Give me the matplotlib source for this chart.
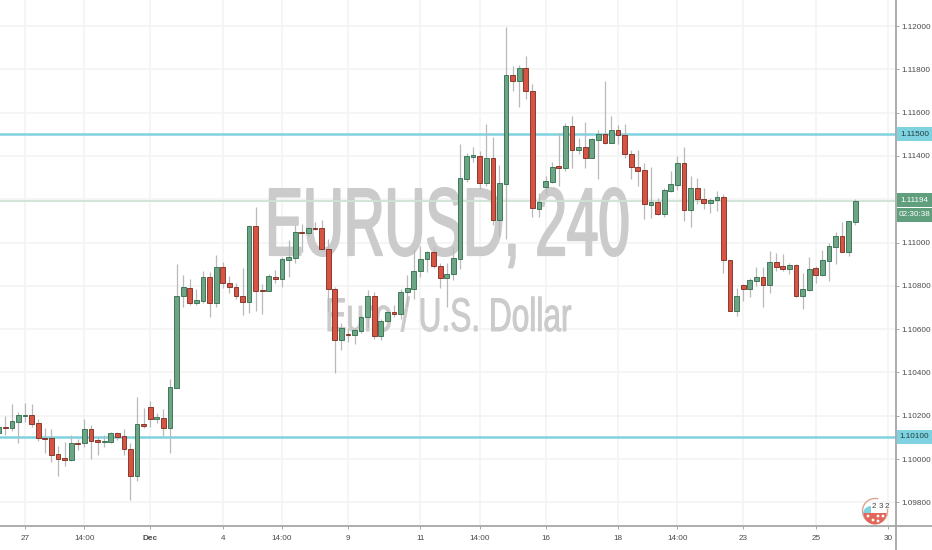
import numpy as np
import matplotlib
matplotlib.use("Agg")
import matplotlib.pyplot as plt
from matplotlib.patches import Rectangle, Wedge, Circle, Arc
from matplotlib.patheffects import AbstractPathEffect
from matplotlib.transforms import Affine2D

BASE_PRICE = 1.1
PIP = 0.0001

# values: pips above 1.10000, first candle is number -1
opens = [12.2,
 15.0,14.2,17.3,20.0,20.5,16.7,9.9,9.6,2.2,0.3,
 -0.6,7.4,7.3,14.0,8.6,7.9,7.9,12.0,10.6,4.8,
 -7.7,16.2,23.9,18.5,19.1,14.2,33.0,75.2,79.2,72.2,
 73.2,84.0,72.2,88.6,81.3,79.6,75.3,72.7,107.7,78.1,
 77.7,84.3,83.2,92.1,92.7,105.1,104.3,106.8,106.6,96.9,
 78.4,54.9,57.6,57.2,59.2,65.5,75.3,56.7,63.9,67.8,
 67.2,77.0,78.7,86.7,92.3,95.8,89.4,83.7,85.4,92.5,
 129.3,139.7,140.1,127.6,138.9,110.2,127.2,177.4,174.5,180.8,
 170.2,115.6,125.8,128.0,135.3,134.6,153.7,142.9,144.0,139.0,
 147.5,150.3,146.1,152.0,149.8,140.9,135.0,133.3,117.5,118.6,
 113.2,123.8,126.7,136.8,114.9,125.4,120.3,118.3,119.7,121.1,
 91.8,68.6,80.4,78.7,82.4,84.0,80.3,91.0,89.0,88.0,
 89.8,75.3,78.3,88.1,84.9,91.7,98.0,102.9,95.8,109.4]
closes = [15.0,
 14.2,17.4,20.5,20.5,16.3,9.6,9.3,2.0,-0.1,-0.6,
 7.3,7.0,14.0,8.3,7.9,8.3,12.0,10.3,4.5,-7.7,
 16.2,15.4,18.5,19.3,14.2,33.1,75.3,79.3,72.2,73.3,
 84.0,72.2,88.6,81.2,79.3,75.2,72.7,107.7,77.8,77.5,
 84.4,83.2,92.4,93.2,105.1,104.3,106.8,106.3,96.9,78.4,
 55.0,60.3,57.2,59.5,65.8,75.3,56.7,63.9,68.0,67.2,
 77.0,78.9,86.9,92.3,95.8,89.2,83.8,85.5,92.7,129.6,
 140.1,140.4,127.6,139.0,110.4,127.3,177.4,174.5,180.8,169.8,
 115.8,118.7,128.3,135.0,134.6,153.7,142.9,144.0,139.0,147.7,
 150.3,146.1,152.0,149.5,140.7,134.7,133.0,117.6,118.6,113.2,
 124.1,127.0,136.7,114.9,125.4,120.0,118.3,119.8,121.1,91.8,
 68.6,75.3,78.6,82.7,84.0,80.3,91.0,88.7,87.8,89.8,
 75.3,78.4,88.0,84.9,91.8,98.3,102.9,95.8,109.8,119.4]
highs = [16.5,
 20.0,25.4,21.9,25.7,25.3,18.5,14.5,13.7,6.0,7.9,
 11.1,9.3,18.5,15.7,10.3,11.1,12.7,12.7,13.7,7.3,
 28.5,23.4,27.0,21.1,23.1,36.8,90.1,85.2,83.0,78.4,
 86.9,86.3,94.1,91.2,84.7,81.5,88.1,108.0,116.6,80.7,
 85.5,87.4,93.2,101.2,108.2,108.5,107.1,109.4,110.2,101.5,
 79.4,63.0,60.4,60.4,66.6,78.1,77.0,64.6,68.6,71.2,
 78.4,85.2,96.9,98.4,96.3,97.9,90.4,90.7,98.1,145.4,
 141.2,144.3,142.3,154.6,148.9,135.7,199.7,181.5,182.0,186.2,
 173.1,123.0,130.7,137.2,150.7,155.1,158.4,148.1,155.8,148.1,
 152.0,174.8,158.4,154.3,154.6,142.7,142.7,136.6,134.7,120.7,
 125.3,133.0,140.0,144.3,130.8,129.7,125.1,120.5,124.0,122.3,
 91.8,78.9,80.9,83.5,88.9,88.6,96.3,95.0,94.6,90.4,
 90.1,85.8,93.5,89.2,96.6,100.0,105.1,109.4,109.8,120.1]
lows = [11.6,
 11.1,13.1,7.3,17.3,15.0,8.3,3.0,-1.4,-7.7,-3.2,
 -0.7,4.2,5.4,0.2,2.0,5.7,7.6,8.8,2.0,-18.8,
 -10.0,14.5,15.0,16.8,10.6,3.0,32.7,70.1,71.2,71.2,
 71.9,65.8,70.1,79.2,76.9,73.8,66.6,67.6,68.6,67.0,
 77.5,81.2,79.4,84.3,90.4,95.8,103.2,105.8,96.1,68.6,
 39.9,50.4,54.1,53.2,58.4,60.9,55.3,55.0,63.5,65.5,
 64.9,70.7,74.0,84.3,86.6,88.1,79.2,70.1,82.7,87.9,
 128.1,137.3,124.6,126.3,108.1,103.0,101.8,170.2,162.8,166.5,
 111.9,111.9,122.4,127.6,126.1,133.2,134.6,140.9,134.3,138.9,
 129.2,145.5,145.8,145.5,138.9,129.2,126.3,110.7,111.5,112.7,
 111.9,123.2,124.3,109.8,107.4,117.7,115.7,113.5,114.8,86.1,
 68.2,66.2,73.0,74.7,80.1,70.1,76.9,87.0,87.0,85.3,
 75.0,69.2,77.8,81.5,84.7,82.4,90.0,95.5,93.8,108.1]

candle_numbers = np.arange(-1, 130)
levels = [1.11500, 1.10100]
last_price = 1.11194
countdown = "02:30:38"
price_ticks = [1.098, 1.100, 1.102, 1.104, 1.106, 1.108, 1.110, 1.114, 1.116, 1.118, 1.120]
date_ticks = [3, 12, 22, 33, 42, 52, 63, 72, 82, 93, 102, 112, 123, 134]
date_labels = ["27", "14:00", "Dec", "4", "14:00", "9", "11", "14:00", "16", "18", "14:00", "23", "25", "30"]

UP, UP_EDGE = "#6ba583", "#2f6a4b"
DOWN, DOWN_EDGE = "#d75442", "#7a2a20"
WICK = "#b9b9b9"
CYAN = "#7fd3e0"
GRID = "#f3f3f3"
MARK = "#cbcbcb"
AXIS = "#a6a6a6"
TEXT = "#4a4a4a"
FONT = "Liberation Sans"


class Squeeze(AbstractPathEffect):
    """Draw text narrower about a pixel column, with thickened strokes."""
    def __init__(self, cx, sx, stroke):
        super().__init__()
        self.cx, self.sx, self.stroke = cx, sx, stroke

    def draw_path(self, renderer, gc, tpath, affine, rgbFace=None):
        t = affine + Affine2D().translate(-self.cx, 0).scale(self.sx, 1).translate(self.cx, 0)
        g = renderer.new_gc()
        g.copy_properties(gc)
        g.set_foreground(rgbFace)
        g.set_linewidth(self.stroke)
        renderer.draw_path(g, tpath, t, rgbFace)
        g.restore()


W, H = 932, 550
fig = plt.figure(figsize=(W / 100, H / 100), dpi=100, facecolor="white")
ax = fig.add_axes([0, 24 / H, 896 / W, 526 / H])
ax.set_facecolor("white")
ax.set_xlim(-0.804, 135.18)
ax.set_ylim(BASE_PRICE - 30.95 * PIP, BASE_PRICE + 212.06 * PIP)
for s in ax.spines.values():
    s.set_visible(False)

o = BASE_PRICE + np.array(opens) * PIP
c = BASE_PRICE + np.array(closes) * PIP
h = BASE_PRICE + np.array(highs) * PIP
l = BASE_PRICE + np.array(lows) * PIP
up = c >= o

ax.set_yticks(price_ticks)
ax.set_yticklabels([f"{p:.5f}" for p in price_ticks], fontsize=5.9, color=TEXT, family=FONT)
ax.yaxis.tick_right()
ax.set_xticks(date_ticks)
ax.set_xticklabels(date_labels, fontsize=5.9, color=TEXT, family=FONT)
ax.get_xticklabels()[2].set_fontweight("bold")
ax.tick_params(axis="y", length=2, width=0.7, color=AXIS, pad=2)
ax.tick_params(axis="x", length=2, width=0.7, color=AXIS, pad=4.5)
ax.grid(True, color=GRID, lw=1.1, zorder=0)
ax.hlines(1.112, -1, 136, color=GRID, lw=1.1, zorder=0)
ax.set_axisbelow(True)

# watermark
wm = ["Liberation Sans Narrow", "Liberation Sans"]
ax.text(447.5 / W, (H - 255) / H, "EURUSD, 240", transform=fig.transFigure, ha="center", va="baseline",
        fontsize=69, color=MARK, family=wm, zorder=1,
        path_effects=[Squeeze(447.5, 0.59, 1.6)])
ax.text(448.5 / W, (H - 331) / H, "Euro / U.S. Dollar", transform=fig.transFigure, ha="center", va="baseline",
        fontsize=34, color=MARK, family=wm, zorder=1,
        path_effects=[Squeeze(448.5, 0.67, 0.7)])

# levels
ax.axhline(last_price, color="#cfe3d6", lw=1.3, zorder=2)
for lv in levels:
    ax.axhline(lv, color=CYAN, lw=1.8, zorder=2)

# candles
ax.vlines(candle_numbers, l, h, color=WICK, lw=0.9, zorder=3)
tops, bots = np.maximum(o, c), np.minimum(o, c)
ax.bar(candle_numbers, tops - bots, bottom=bots, width=0.72,
       color=np.where(up, UP, DOWN), edgecolor=np.where(up, UP_EDGE, DOWN_EDGE),
       linewidth=0.6, zorder=4)

# overlay in pixels: axis lines, price labels, logo
ov = fig.add_axes([0, 0, 1, 1], facecolor="none")
ov.set_xlim(0, W)
ov.set_ylim(H, 0)
ov.axis("off")
ov.plot([896, 896], [0, H], color=AXIS, lw=1.3)
ov.plot([0, W], [526, 526], color=AXIS, lw=1.3)


def price_box(y0, y1, label, fc, tc):
    ov.add_patch(Rectangle((897, y0), W - 897, y1 - y0, fc=fc, ec="none", zorder=5))
    ov.text(914.5, (y0 + y1) / 2, label, color=tc, fontsize=5.9, family=FONT,
            ha="center", va="center", zorder=6)


price_box(127, 141, f"{levels[0]:.5f}", CYAN, "#1f3f45")
price_box(430, 444, f"{levels[1]:.5f}", CYAN, "#1f3f45")
price_box(193, 207, f"{last_price:.5f}", "#5f9f7d", "white")
price_box(208, 222, countdown, "#5f9f7d", "white")

# badge
ov.add_patch(Arc((875, 511), 25, 25, theta1=-10, theta2=285, ec="#d9a58f", lw=1.0, zorder=5))
ov.add_patch(Wedge((871, 514), 8, 180, 270, fc=CYAN, ec="none", zorder=5))
ov.add_patch(Wedge((875, 513), 11.5, 0, 180, fc="#e2665a", ec="none", zorder=5))
for bx, by in [(868, 516), (873, 520), (878, 516), (883, 516), (878, 521)]:
    ov.add_patch(Circle((bx, by), 1.4, fc="white", ec="none", zorder=6))
for i, d in enumerate("232"):
    ov.text(874 + i * 6.5, 506.5, d, fontsize=5.8, color="#444444", family=FONT,
            ha="center", va="center", zorder=6)

fig.savefig("out.png", dpi=100, facecolor="white")
